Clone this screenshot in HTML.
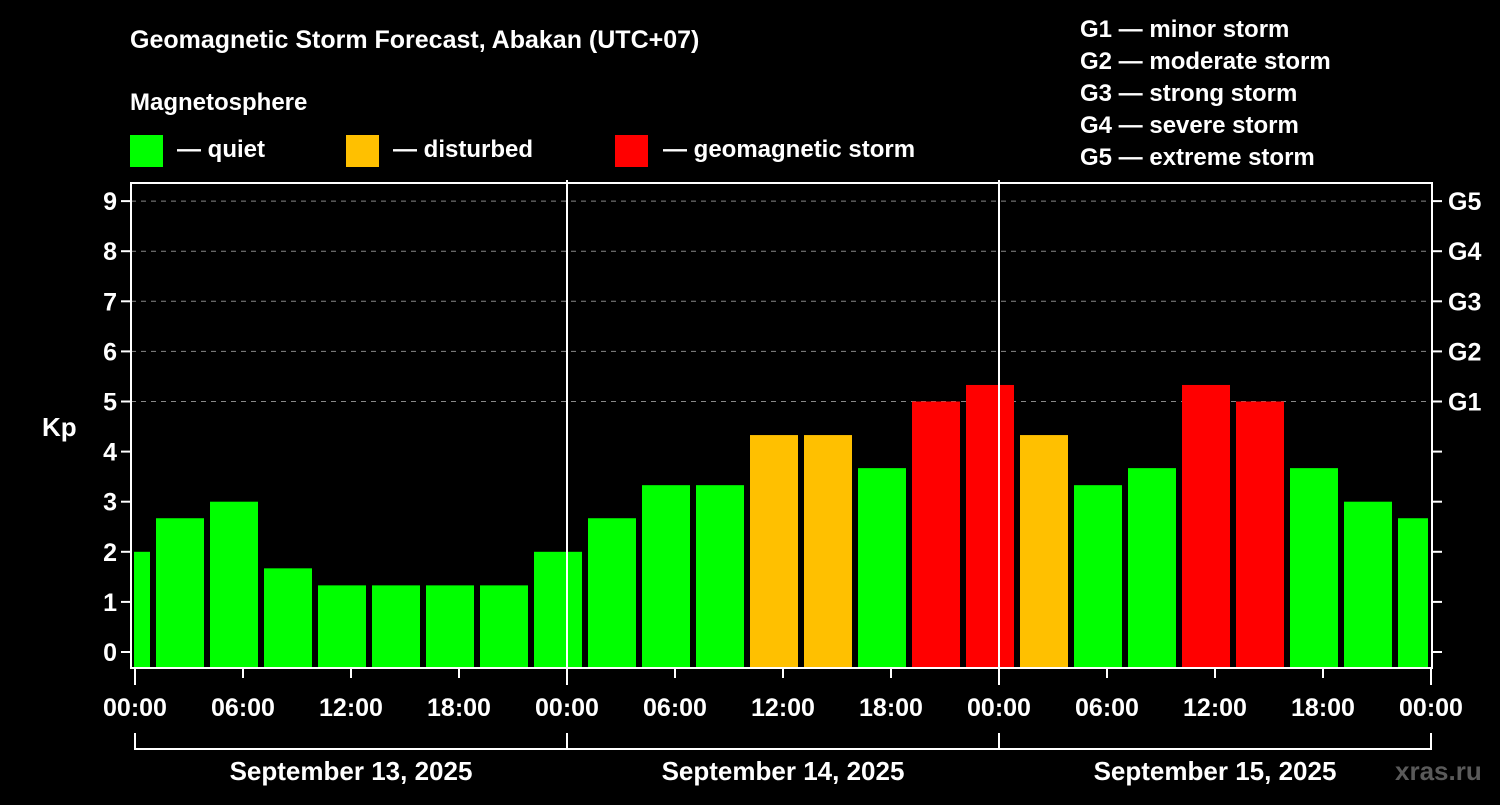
<!DOCTYPE html>
<html><head><meta charset="utf-8"><style>
body{margin:0;background:#000;width:1500px;height:800px;overflow:hidden}
svg text{font-family:"Liberation Sans",sans-serif;font-weight:bold;fill:#fff}
</style></head><body>
<svg width="1500" height="800">
<text x="130" y="48" font-size="25">Geomagnetic Storm Forecast, Abakan (UTC+07)</text>
<text x="130" y="110" font-size="24">Magnetosphere</text>
<rect x="130" y="135" width="33" height="32" fill="#00ff00"/>
<text x="177" y="157" font-size="24">— quiet</text>
<rect x="346" y="135" width="33" height="32" fill="#ffc000"/>
<text x="393" y="157" font-size="24">— disturbed</text>
<rect x="615" y="135" width="33" height="32" fill="#ff0000"/>
<text x="663" y="157" font-size="24">— geomagnetic storm</text>
<g font-size="24">
<text x="1080" y="37">G1 — minor storm</text>
<text x="1080" y="69">G2 — moderate storm</text>
<text x="1080" y="101">G3 — strong storm</text>
<text x="1080" y="133">G4 — severe storm</text>
<text x="1080" y="165">G5 — extreme storm</text>
</g>
<g id="plot"></g>
<text x="42" y="436" font-size="26">Kp</text>
<text x="1395" y="780" font-size="26" fill="#555" style="fill:#5a5a5a">xras.ru</text>
</svg>
<script>
const kpValues=[2.0,2.67,3.0,1.67,1.33,1.33,1.33,1.33,2.0,2.67,3.33,3.33,4.33,4.33,3.67,5.0,5.33,4.33,3.33,3.67,5.33,5.0,3.67,3.0,2.67];
const yTicks=[0,1,2,3,4,5,6,7,8,9];
const gLabels=["","","","","","G1","G2","G3","G4","G5"];
const xTickLabels=["00:00","06:00","12:00","18:00","00:00","06:00","12:00","18:00","00:00","06:00","12:00","18:00","00:00"];
const dayLabels=["September 13, 2025","September 14, 2025","September 15, 2025"];
const NS="http://www.w3.org/2000/svg";
const g=document.getElementById('plot');
const L=131,R=1432,T=183,B=668,X0=135,PXH=18;
const y=v=>652-v*50.1;
const x=h=>X0+h*PXH;
function mk(tag,attrs){const e=document.createElementNS(NS,tag);for(const k in attrs)e.setAttribute(k,attrs[k]);g.appendChild(e);return e;}
// grid
yTicks.forEach(v=>{
 if(v>=5){const l=mk('line',{x1:L,x2:R,y1:y(v),y2:y(v),stroke:'#888','stroke-dasharray':'5,5','stroke-width':1});
 
 }
 const t=mk('line',{x1:L-10,x2:L,y1:y(v),y2:y(v),stroke:'#fff','stroke-width':2});
 
 
 const t2=mk('line',{x1:R,x2:R+10,y1:y(v),y2:y(v),stroke:'#fff','stroke-width':2});
 
 
 const tx=mk('text',{x:L-14,y:y(v)+9,'font-size':25,'text-anchor':'end'});tx.textContent=v;
 
 
 if(gLabels[v]){const gt=mk('text',{x:R+16,y:y(v)+9,'font-size':25});gt.textContent=gLabels[v];
 
 }
});
// bars
kpValues.forEach((v,i)=>{
 let s=x(i*3-2)+3,e=x(i*3+1)-3;
 if(s<L+3)s=L+3; if(e>R-4)e=R-4;
 const c=v>=5?'#ff0000':(v>=4?'#ffc000':'#00ff00');
 const r=mk('rect',{x:s,y:y(v),width:e-s,height:B-y(v),fill:c});
 
 
});
// frame
const fr=mk('rect',{x:L,y:T,width:R-L,height:B-T,fill:'none',stroke:'#fff','stroke-width':2});


[1,2].forEach(d=>{const l=mk('line',{x1:x(d*24),x2:x(d*24),y1:T-3,y2:B,stroke:'#fff','stroke-width':2});
 
 });
// x ticks
xTickLabels.forEach((lab,i)=>{
 const xx=x(i*6);
 const t=mk('line',{x1:xx,x2:xx,y1:B,y2:B+(i%4==0?17:10),stroke:'#fff','stroke-width':2});
 
 
 const tx=mk('text',{x:xx,y:716,'font-size':25,'text-anchor':'middle'});tx.textContent=lab;
 
 
});
dayLabels.forEach((lab,d)=>{
 const a=x(d*24),b=x(d*24+24);
 const p=mk('path',{d:`M${a} 733V749H${b}V733`,stroke:'#fff','stroke-width':2,fill:'none'});
 
 
 const tx=mk('text',{x:(a+b)/2,y:780,'font-size':26,'text-anchor':'middle'});tx.textContent=lab;
 
 
});
</script>
</body></html>
